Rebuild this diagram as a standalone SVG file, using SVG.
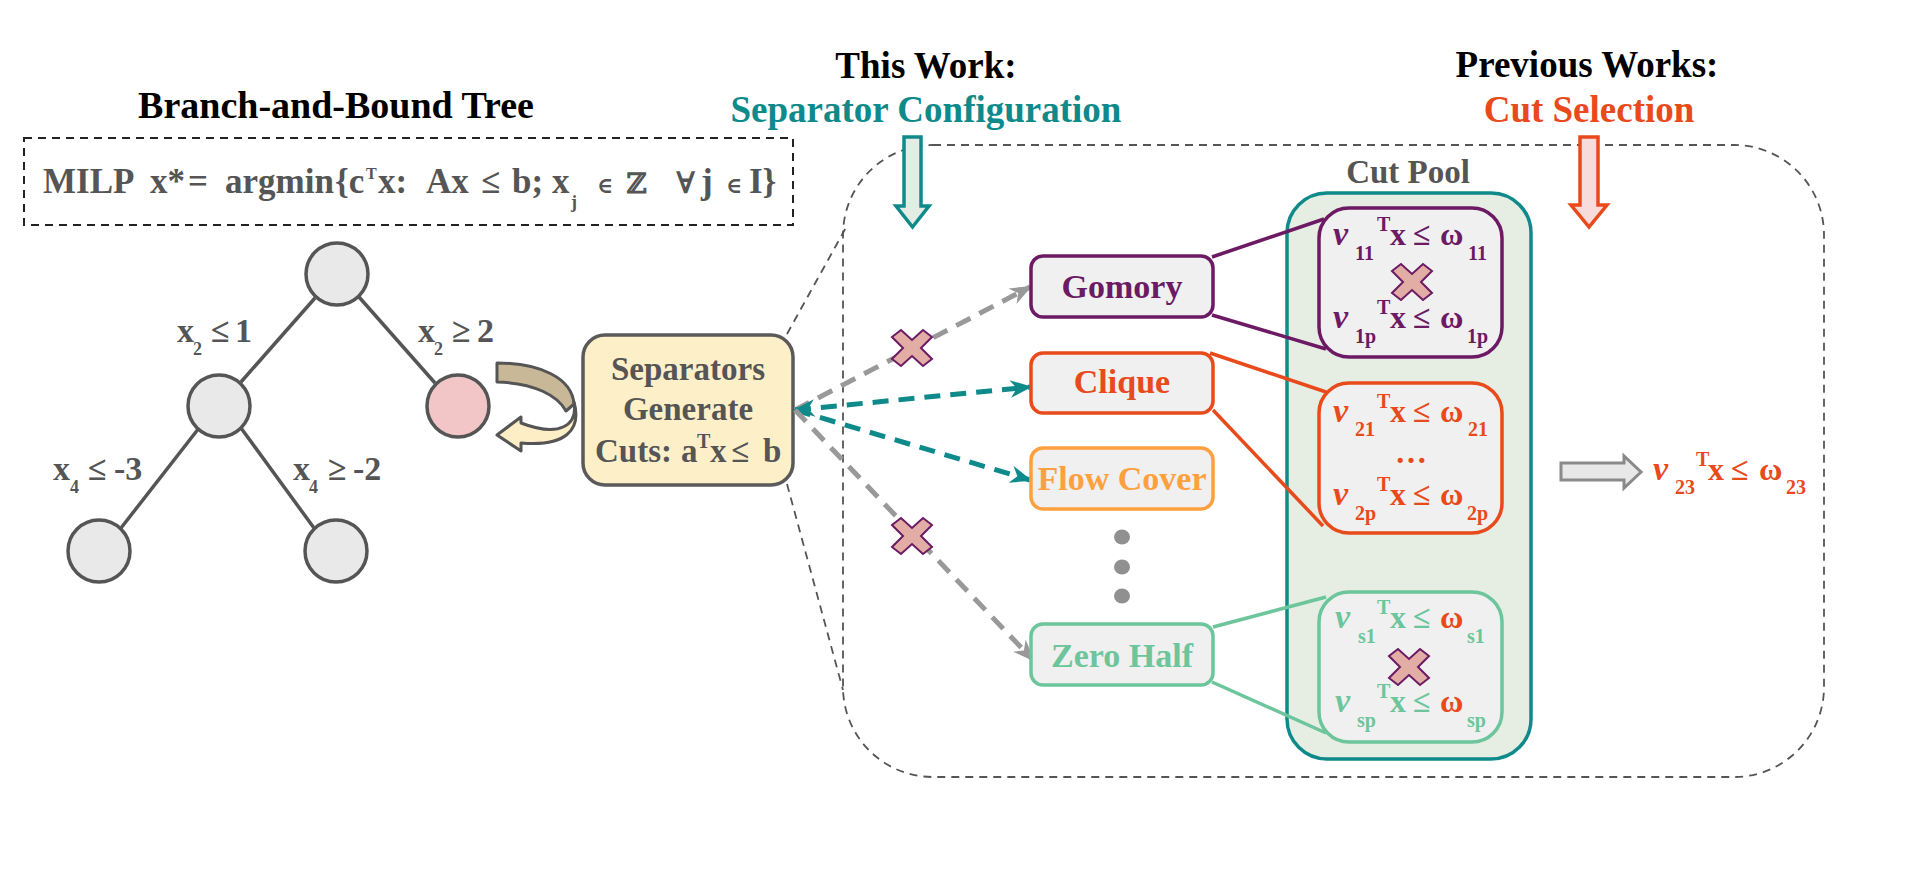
<svg xmlns="http://www.w3.org/2000/svg" width="1916" height="878" viewBox="0 0 1916 878">
<style>
  text { font-family: "Liberation Serif", "Times New Roman", "DejaVu Serif", serif; font-weight: bold; }
  .title { font-size: 37px; fill: #000; text-anchor: middle; }
  .gray { fill: #555555; }
  .teal { fill: #0f8a8a; }
  .red { fill: #e84a1b; }
  .purple { fill: #6b1a63; }
  .lorange { fill: #ffa03f; }
  .mint { fill: #6cc59b; }
  .lbl { font-size: 34px; }
  .sub { font-size: 18px; }
  .eq { font-size: 32px; }
  .sm { font-size: 20px; }
  .nu { font-style: italic; font-size: 34px; }
  .tnode { fill: #e9e9e9; stroke: #555555; stroke-width: 3.5; }
  .tedge { stroke: #555555; stroke-width: 3.5; fill: none; }
  .sep { fill: #f0f0f0; stroke-width: 3.5; }
  .sepText { font-size: 34px; text-anchor: middle; }
  .cutbox { fill: #f0f0f0; stroke-width: 3.5; }
  .zoomline { fill: none; stroke: #555555; stroke-width: 1.8; stroke-dasharray: 8 6; }
  .darrow { fill: none; stroke-width: 5; stroke-dasharray: 16 10; }
  .link { fill: none; stroke-width: 3.5; }
</style>
<defs>
  <marker id="ahGray" viewBox="0 0 20 16" refX="18" refY="8" markerWidth="22" markerHeight="18" markerUnits="userSpaceOnUse" orient="auto-start-reverse">
    <path d="M0,0 L20,8 L0,16 L6,8 Z" fill="#999999"/>
  </marker>
  <marker id="ahTeal" viewBox="0 0 20 16" refX="18" refY="8" markerWidth="22" markerHeight="18" markerUnits="userSpaceOnUse" orient="auto-start-reverse">
    <path d="M0,0 L20,8 L0,16 L6,8 Z" fill="#0f8a8a"/>
  </marker>
  <polygon id="xmark" points="-20,-11 -11,-18 0,-8 11,-18 20,-11 9,0 20,11 11,18 0,8 -11,18 -20,11 -9,0" fill="#e2ada5" stroke="#6b1a63" stroke-width="2" stroke-linejoin="miter"/>
</defs>

<rect width="1916" height="878" fill="#ffffff"/>

<!-- Titles -->
<g id="title-bnb"><text class="title" x="336" y="118" style="font-size:38px">Branch-and-Bound Tree</text></g>
<g id="title-thiswork">
  <text class="title" x="926" y="78">This Work:</text>
  <text class="title" x="926" y="122" style="fill:#0f8a8a">Separator Configuration</text>
</g>
<g id="title-previous">
  <text class="title" x="1587" y="77">Previous Works:</text>
  <text class="title" x="1589" y="122" style="fill:#e84a1b">Cut Selection</text>
</g>

<!-- MILP box -->
<g id="milp">
  <rect x="24" y="138" width="769" height="87" fill="none" stroke="#222222" stroke-width="2" stroke-dasharray="8 6"/>
  <text class="gray" y="193" style="font-size:35px"><tspan x="43">MILP</tspan><tspan x="150">x*</tspan><tspan x="188">=</tspan><tspan x="225">argmin</tspan><tspan x="335">{c</tspan><tspan x="366" y="179" style="font-size:16px">T</tspan><tspan x="378" y="193">x:</tspan><tspan x="426">Ax</tspan><tspan x="481">≤</tspan><tspan x="512">b;</tspan><tspan x="552">x</tspan><tspan x="571" y="208" style="font-size:18px">j</tspan><tspan x="597" y="193" style="font-size:22px">∈</tspan><tspan x="626" style="font-family:'DejaVu Serif',serif;font-size:28px">ℤ</tspan><tspan x="676" style="font-size:30px">∀</tspan><tspan x="701">j</tspan><tspan x="726" style="font-size:22px">∈</tspan><tspan x="749">I}</tspan></text>
</g>

<!-- Tree -->
<g id="tree-edges">
  <line class="tedge" x1="315" y1="298" x2="241" y2="382"/>
  <line class="tedge" x1="359" y1="297" x2="435" y2="383"/>
  <line class="tedge" x1="199" y1="428" x2="121" y2="528"/>
  <line class="tedge" x1="241" y1="428" x2="314" y2="528"/>
</g>
<g id="node-root"><circle class="tnode" cx="337" cy="274" r="31"/></g>
<g id="node-left"><circle class="tnode" cx="219" cy="406" r="31"/></g>
<g id="node-right"><circle class="tnode" cx="458" cy="406" r="31" style="fill:#f2c6c6"/></g>
<g id="node-ll"><circle class="tnode" cx="99" cy="551" r="31"/></g>
<g id="node-lr"><circle class="tnode" cx="336" cy="551" r="31"/></g>
<g id="tree-labels">
  <text class="gray lbl" y="342"><tspan x="177">x</tspan><tspan x="193" y="355" class="sub">2</tspan><tspan x="211" y="342">≤</tspan><tspan x="235">1</tspan></text>
  <text class="gray lbl" y="342"><tspan x="418">x</tspan><tspan x="434" y="355" class="sub">2</tspan><tspan x="452" y="342">≥</tspan><tspan x="477">2</tspan></text>
  <text class="gray lbl" y="480"><tspan x="53">x</tspan><tspan x="70" y="493" class="sub">4</tspan><tspan x="88" y="480">≤</tspan><tspan x="114">-3</tspan></text>
  <text class="gray lbl" y="480"><tspan x="293">x</tspan><tspan x="309" y="493" class="sub">4</tspan><tspan x="328" y="480">≥</tspan><tspan x="353">-2</tspan></text>
</g>

<!-- Curved arrow from node to separators -->
<g id="curved-arrow">
  <path d="M497,363 C540,363 572,378 574,404 L566,411 C558,396 535,383 497,382 Z" fill="#c8b898" stroke="#555555" stroke-width="3" stroke-linejoin="round"/>
  <path d="M574,402 C578,425 560,438 521,423 L521,417 L497,435 L521,451 L521,443 C565,447 582,430 574,402 Z" fill="#fdeec6" stroke="#555555" stroke-width="3" stroke-linejoin="round"/>
</g>

<!-- Big dashed region and zoom lines -->
<g id="region">
  <path class="zoomline" d="M933,145 H1734 A90,90 0 0 1 1824,235 V687 A90,90 0 0 1 1734,777 H933 A90,90 0 0 1 843,687 V235 A90,90 0 0 1 933,145 Z"/>
  <path class="zoomline" d="M787,334 L848,224"/>
  <path class="zoomline" d="M787,484 L843,690"/>
</g>

<!-- Separators node -->
<g id="node-separators">
  <rect x="583" y="335" width="210" height="150" rx="22" fill="#fdefc8" stroke="#5a5a5a" stroke-width="3.5"/>
  <text class="gray" x="688" y="380" text-anchor="middle" style="font-size:33px">Separators</text>
  <text class="gray" x="688" y="420" text-anchor="middle" style="font-size:33px">Generate</text>
  <text class="gray" y="462" style="font-size:33px"><tspan x="595">Cuts:</tspan><tspan x="681">a</tspan><tspan x="697" y="448" style="font-size:20px">T</tspan><tspan x="710" y="462">x</tspan><tspan x="731">≤</tspan><tspan x="763">b</tspan></text>
</g>

<!-- Down arrows -->
<g id="arrow-thiswork">
  <path d="M904,137 H921 V206 H929 L912.5,227 L896,206 H904 Z" fill="#e4ede4" stroke="#0f8a8a" stroke-width="3.5" stroke-linejoin="miter"/>
</g>
<g id="arrow-previous">
  <path d="M1580,137 H1598 V205 H1607 L1589,227 L1571,205 H1580 Z" fill="#f8dcdc" stroke="#e84a1b" stroke-width="3.5" stroke-linejoin="miter"/>
</g>

<!-- Cut pool -->
<g id="cut-pool">
  <text class="gray" x="1408" y="183" text-anchor="middle" style="font-size:33px">Cut Pool</text>
  <rect x="1287" y="193" width="244" height="566" rx="40" fill="#e6eee4" stroke="#0f8a8a" stroke-width="3.5"/>
</g>

<!-- Connectors -->
<g id="connectors">
  <line class="darrow" x1="795" y1="410" x2="1030" y2="287" stroke="#999999" marker-end="url(#ahGray)"/>
  <line class="darrow" x1="795" y1="410" x2="1030" y2="387" stroke="#0f8a8a" marker-start="url(#ahTeal)" marker-end="url(#ahTeal)"/>
  <line class="darrow" x1="795" y1="410" x2="1030" y2="480" stroke="#0f8a8a" marker-end="url(#ahTeal)"/>
  <line class="darrow" x1="795" y1="410" x2="1033" y2="660" stroke="#999999" marker-end="url(#ahGray)"/>
  <line class="link" x1="1212" y1="257" x2="1324" y2="219" stroke="#6b1a63"/>
  <line class="link" x1="1212" y1="315" x2="1326" y2="349" stroke="#6b1a63"/>
  <line class="link" x1="1210" y1="353" x2="1326" y2="392" stroke="#e84a1b"/>
  <line class="link" x1="1213" y1="410" x2="1323" y2="526" stroke="#e84a1b"/>
  <line class="link" x1="1213" y1="627" x2="1326" y2="597" stroke="#6cc59b"/>
  <line class="link" x1="1212" y1="682" x2="1326" y2="733" stroke="#6cc59b"/>
  <use href="#xmark" x="912" y="348"/>
  <use href="#xmark" x="912" y="536"/>
</g>

<!-- Separator nodes -->
<g id="node-gomory">
  <rect class="sep" x="1031" y="256" width="182" height="61" rx="12" stroke="#6b1a63"/>
  <text class="sepText purple" x="1122" y="298">Gomory</text>
</g>
<g id="node-clique">
  <rect class="sep" x="1031" y="353" width="182" height="60" rx="12" stroke="#e84a1b"/>
  <text class="sepText red" x="1122" y="393">Clique</text>
</g>
<g id="node-flowcover">
  <rect class="sep" x="1031" y="448" width="182" height="61" rx="12" stroke="#ffa03f"/>
  <text class="sepText lorange" x="1122" y="490">Flow Cover</text>
</g>
<g id="dots">
  <ellipse cx="1122" cy="537" rx="8" ry="7.5" fill="#909090"/>
  <ellipse cx="1122" cy="567" rx="8" ry="7.5" fill="#909090"/>
  <ellipse cx="1122" cy="596" rx="8" ry="7.5" fill="#909090"/>
</g>
<g id="node-zerohalf">
  <rect class="sep" x="1031" y="624" width="182" height="61" rx="12" stroke="#6cc59b"/>
  <text class="sepText mint" x="1122" y="667">Zero Half</text>
</g>

<!-- Cut boxes -->
<g id="cuts-gomory">
  <rect class="cutbox" x="1319" y="208" width="183" height="149" rx="30" stroke="#6b1a63"/>
  <text class="eq purple" y="245"><tspan x="1333" class="nu">ν</tspan><tspan x="1355" y="260" class="sm">11</tspan><tspan x="1377" y="231" class="sm">T</tspan><tspan x="1390" y="245">x</tspan><tspan x="1413">≤</tspan><tspan x="1440">ω</tspan><tspan x="1468" y="260" class="sm">11</tspan></text>
  <use href="#xmark" x="1412" y="282"/>
  <text class="eq purple" y="328"><tspan x="1333" class="nu">ν</tspan><tspan x="1355" y="343" class="sm">1p</tspan><tspan x="1377" y="314" class="sm">T</tspan><tspan x="1390" y="328">x</tspan><tspan x="1413">≤</tspan><tspan x="1440">ω</tspan><tspan x="1467" y="343" class="sm">1p</tspan></text>
</g>
<g id="cuts-clique">
  <rect class="cutbox" x="1319" y="383" width="183" height="150" rx="30" stroke="#e84a1b"/>
  <text class="eq red" y="422"><tspan x="1333" class="nu">ν</tspan><tspan x="1355" y="436" class="sm">21</tspan><tspan x="1377" y="408" class="sm">T</tspan><tspan x="1390" y="422">x</tspan><tspan x="1413">≤</tspan><tspan x="1440">ω</tspan><tspan x="1468" y="436" class="sm">21</tspan></text>
  <text class="eq red" x="1411" y="463" text-anchor="middle">…</text>
  <text class="eq red" y="505"><tspan x="1333" class="nu">ν</tspan><tspan x="1355" y="520" class="sm">2p</tspan><tspan x="1377" y="491" class="sm">T</tspan><tspan x="1390" y="505">x</tspan><tspan x="1413">≤</tspan><tspan x="1440">ω</tspan><tspan x="1467" y="520" class="sm">2p</tspan></text>
</g>
<g id="cuts-zerohalf">
  <rect class="cutbox" x="1319" y="592" width="183" height="150" rx="30" stroke="#6cc59b"/>
  <text class="eq mint" y="628"><tspan x="1335" class="nu">ν</tspan><tspan x="1358" y="643" class="sm">s1</tspan><tspan x="1377" y="614" class="sm">T</tspan><tspan x="1390" y="628">x</tspan><tspan x="1413">≤</tspan><tspan x="1440" style="fill:#e84a1b">ω</tspan><tspan x="1467" y="643" class="sm">s1</tspan></text>
  <use href="#xmark" x="1409" y="667"/>
  <text class="eq mint" y="712"><tspan x="1335" class="nu">ν</tspan><tspan x="1357" y="727" class="sm">sp</tspan><tspan x="1377" y="698" class="sm">T</tspan><tspan x="1390" y="712">x</tspan><tspan x="1413">≤</tspan><tspan x="1440" style="fill:#e84a1b">ω</tspan><tspan x="1467" y="727" class="sm">sp</tspan></text>
</g>

<!-- Output -->
<g id="output">
  <path d="M1561,463 H1624 V456 L1641,472 L1624,488 V480 H1561 Z" fill="#e8e8e8" stroke="#8a8a8a" stroke-width="3" stroke-linejoin="miter"/>
  <text class="eq red" y="480"><tspan x="1653" class="nu">ν</tspan><tspan x="1675" y="494" class="sm">23</tspan><tspan x="1696" y="466" class="sm">T</tspan><tspan x="1708" y="480">x</tspan><tspan x="1731">≤</tspan><tspan x="1759">ω</tspan><tspan x="1786" y="494" class="sm">23</tspan></text>
</g>
</svg>
